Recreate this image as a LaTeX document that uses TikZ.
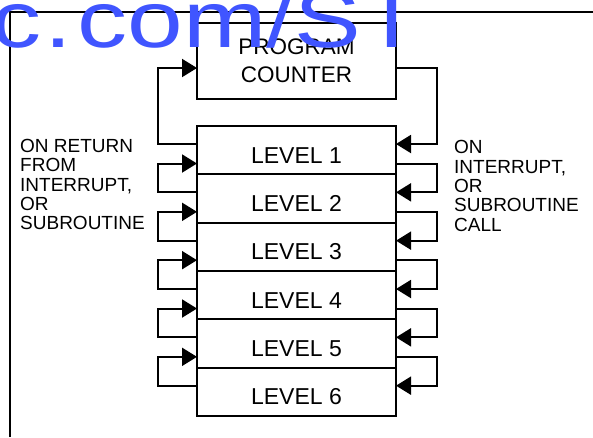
\documentclass[tikz,border=0pt]{standalone}
\usepackage{fontspec}
\setmainfont{Liberation Sans}
\usetikzlibrary{arrows.meta,calc}
\definecolor{wmblue}{RGB}{64,85,255}
\begin{document}
\begin{tikzpicture}[x=1pt,y=-1pt,
  line/.style={line width=2pt},
  arr/.style={line width=2pt,-{Triangle[length=15pt,width=18pt]}},
  box/.style={draw,line width=2pt,minimum width=199pt,inner sep=0pt,outer sep=0pt},
  lvl/.style={box,minimum height=48.33pt},
  lvltxt/.style={font=\fontsize{23}{27}\selectfont,anchor=base,inner sep=0pt},
  side/.style={align=left,anchor=north west,inner sep=0pt,font=\fontsize{19}{19.3}\selectfont}]
\useasboundingbox (0,0) rectangle (593,437);
\clip (0,0) rectangle (593,437);
% frame
\draw[line] (10,437) -- (10,11.5) -- (593,11.5);
% program counter
\node[box,minimum height=76pt,align=center,font=\fontsize{22.5}{28}\selectfont] (PC) at (296.5,61) {PROGRAM\\COUNTER};
% level boxes
\node[lvl] (L1) at (296.5,150.17) {};
\node[lvl] (L2) at (296.5,198.5) {};
\node[lvl] (L3) at (296.5,246.83) {};
\node[lvl] (L4) at (296.5,295.17) {};
\node[lvl] (L5) at (296.5,343.5) {};
\node[lvl] (L6) at (296.5,391.83) {};
\node[lvltxt] (T1) at (296.5,163) {LEVEL 1};
\node[lvltxt] (T2) at (296.5,211.3) {LEVEL 2};
\node[lvltxt] (T3) at (296.5,259.7) {LEVEL 3};
\node[lvltxt] (T4) at (296.5,308) {LEVEL 4};
\node[lvltxt] (T5) at (296.5,356.3) {LEVEL 5};
\node[lvltxt] (T6) at (296.5,404.7) {LEVEL 6};
% side labels
\node[side] (RET) at (20,139) {ON RETURN\\FROM\\INTERRUPT,\\OR\\SUBROUTINE};
\node[side] (CALL) at (454,140.5) {ON\\INTERRUPT,\\OR\\SUBROUTINE\\CALL};
% connectors: return path (left)
\draw[arr] ($(L1.north west)+(0,18)$) -- ++(-39,0) |- ($(PC.north west)+(0,45)$);
\draw[arr] ($(L2.north west)+(0,18)$) -- ++(-39,0) |- ($(L1.north west)+(0,37.5)$);
\draw[arr] ($(L3.north west)+(0,18)$) -- ++(-39,0) |- ($(L2.north west)+(0,37.5)$);
\draw[arr] ($(L4.north west)+(0,18)$) -- ++(-39,0) |- ($(L3.north west)+(0,37.5)$);
\draw[arr] ($(L5.north west)+(0,18)$) -- ++(-39,0) |- ($(L4.north west)+(0,37.5)$);
\draw[arr] ($(L6.north west)+(0,18)$) -- ++(-39,0) |- ($(L5.north west)+(0,37.5)$);
% connectors: call path (right)
\draw[arr] ($(PC.north east)+(0,45)$) -- ++(41,0) |- ($(L1.north east)+(0,18)$);
\draw[arr] ($(L1.north east)+(0,37.5)$) -- ++(41,0) |- ($(L2.north east)+(0,18)$);
\draw[arr] ($(L2.north east)+(0,37.5)$) -- ++(41,0) |- ($(L3.north east)+(0,18)$);
\draw[arr] ($(L3.north east)+(0,37.5)$) -- ++(41,0) |- ($(L4.north east)+(0,18)$);
\draw[arr] ($(L4.north east)+(0,37.5)$) -- ++(41,0) |- ($(L5.north east)+(0,18)$);
\draw[arr] ($(L5.north east)+(0,37.5)$) -- ++(41,0) |- ($(L6.north east)+(0,18)$);
% watermark
\node[anchor=base west,inner sep=0pt,text=wmblue,xscale=1.25,font=\fontsize{80}{80}\selectfont] (WM) at (-9,47) {c\kern3pt.\kern4pt{}com/ST};
\end{tikzpicture}
\end{document}
